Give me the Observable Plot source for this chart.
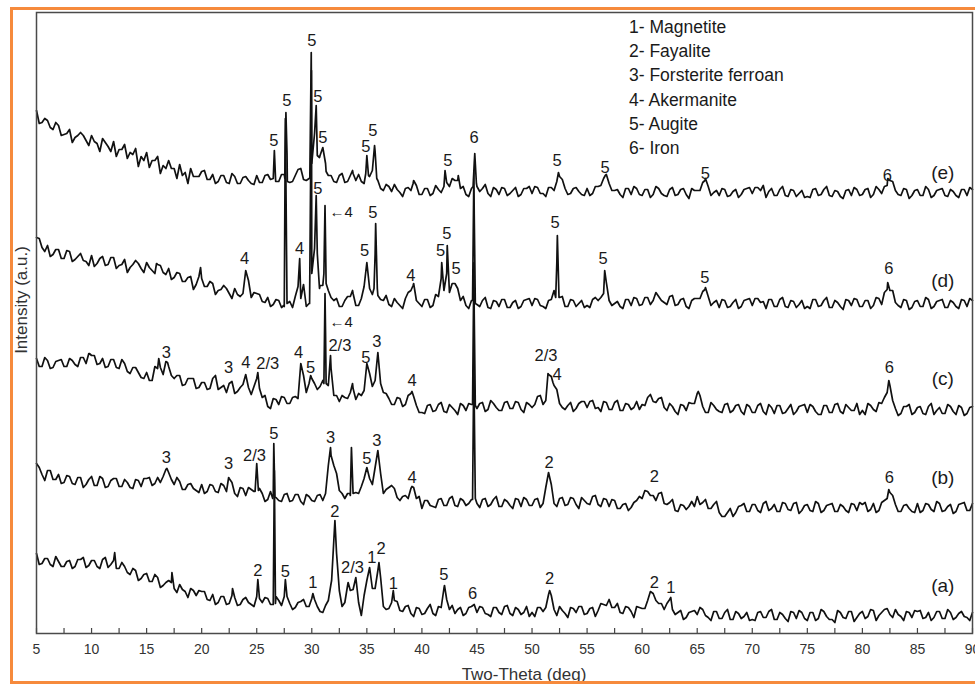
<!DOCTYPE html>
<html><head><meta charset="utf-8">
<script src="https://cdn.jsdelivr.net/npm/d3@7"></script>
<script src="https://cdn.jsdelivr.net/npm/@observablehq/plot@0.6"></script>
<style>
body{margin:0;background:#fff;}
#wrap{position:relative;width:975px;height:684px;overflow:hidden;font-family:"Liberation Sans",Arial,sans-serif;color:#222;}
#border{position:absolute;left:10px;top:7px;width:1000px;height:677px;border:3px solid #f68a3c;box-sizing:border-box;pointer-events:none;}
#legend{position:absolute;left:629px;top:15px;font-size:17.5px;line-height:24.2px;color:#1a1a1a;white-space:pre;}
#xtitle{position:absolute;left:524px;top:675px;transform:translate(-50%,-50%);font-size:17px;color:#333;white-space:nowrap;}
#ytitle{position:absolute;left:22px;top:300px;transform:translate(-50%,-50%) rotate(-90deg);font-size:17px;color:#333;white-space:nowrap;}
#chart{position:absolute;left:0;top:0;}
</style></head>
<body>
<div id="wrap">
  <div id="chart"></div>
  <div id="legend"></div>
  <div id="xtitle"></div>
  <div id="ytitle"></div>
  <div id="border"></div>
</div>
<script>
// ---- axis text ----
const xTitle = "Two-Theta (deg)";
const yTitle = "Intensity (a.u.)";
const xTicks = [5,10,15,20,25,30,35,40,45,50,55,60,65,70,75,80,85,90];
const xMinorTicks = [7.5,12.5,17.5,22.5,27.5,32.5,37.5,42.5,47.5,52.5,57.5,62.5,67.5,72.5,77.5,82.5,87.5];
const legendItems = ["1- Magnetite","2- Fayalite","3- Forsterite ferroan","4- Akermanite","5- Augite","6- Iron"];
const sampleNames = ["(a)","(b)","(c)","(d)","(e)"];
const sampleLabelI = [48,156,255,353,461];

// ---- intensities (a.u.): *Base at 5, 5.5, ... 90 deg; *Mid at 5.25, 5.75, ... 89.75 deg ----
const aBase = [
 80,70,75,67,72,67,73,67,74,66,
 73,67,74,66,73,65,67,59,63,55,
 60,52,56,48,53,45,49,42,45,38,
 42,34,39,31,37,30,36,29,36,29,
 37,31,35,29,33,37,30,26,32,27,
 35,27,21,33,93,43,31,43,53,18,
 53,45,63,27,25,33,23,27,20,26,
 19,25,20,27,45,24,20,26,20,27,
 21,26,19,26,21,27,20,26,19,27,
 21,26,22,39,24,27,20,26,21,27,
 20,26,23,29,34,26,21,27,22,27,
 25,33,40,30,24,34,19,23,16,22,
 19,24,16,22,15,21,14,22,15,21,
 14,21,16,22,14,21,15,22,15,21,
 13,21,15,22,14,11,21,15,22,16,
 22,17,23,18,24,19,24,17,22,16,
 22,15,21,16,22,15,21,16,22,16,
 21];
const aMid = [
 69,75,69,77,67,72,65,74,76,68,
 73,65,76,69,65,71,61,65,53,59,
 52,59,46,51,51,41,44,36,43,43,
 42,33,29,37,29,38,28,34,31,27,
 35,36,29,37,28,37,24,31,34,27,
 34,22,28,50,80,27,48,44,31,38,
 63,45,56,24,31,32,22,28,17,25,
 20,29,18,26,34,28,24,18,26,29,
 27,20,17,26,19,28,18,24,21,17,
 17,26,26,38,18,23,16,25,27,19,
 25,17,30,28,26,30,20,26,16,26,
 25,42,33,30,30,24,21,14,21,23,
 26,18,13,22,15,24,14,20,17,13,
 13,22,16,24,14,19,12,21,23,15,
 21,13,24,17,14,23,16,22,12,20,
 15,24,13,21,25,16,19,13,21,23,
 23,16,13,22,15,24,14,20,17,13];
const aPeaks = [[12.1,81],[17.3,61],[22.8,45],[25.1,54],[26.6,163],[26.7,30],[27.6,54],[30.1,40],[31.8,53],[32.1,113],[33.3,51],[34.0,56],[35.25,66],[36.1,71],[37.4,43],[42.05,48],[51.6,43],[62.6,36]];

const bBase = [
 170,159,163,154,159,151,157,149,156,149,
 157,148,155,147,155,147,154,146,154,147,
 155,148,156,157,161,149,152,144,150,143,
 149,142,148,141,148,155,140,146,138,144,
 170,140,134,139,133,139,132,139,132,139,
 133,138,133,168,168,143,135,138,141,147,
 166,149,183,140,146,145,133,138,145,135,
 125,133,127,134,128,135,128,135,128,134,
 130,134,127,134,127,134,128,135,127,134,
 128,135,130,161,130,135,128,136,129,136,
 130,137,129,135,127,133,125,130,126,133,
 135,142,138,140,130,131,123,129,124,132,
 137,131,125,129,121,117,125,121,128,122,
 129,123,130,123,129,122,130,123,131,123,
 129,122,130,123,129,122,129,123,130,123,
 129,122,130,123,133,141,129,122,129,122,
 130,123,129,122,130,123,129,122,130,123,
 130];
const bMid = [
 166,153,163,154,150,158,150,156,146,154,
 148,157,146,153,155,147,151,145,153,155,
 156,150,151,164,154,156,144,149,145,141,
 140,149,142,150,142,151,137,145,146,142,
 145,132,142,136,132,140,133,139,129,137,
 132,139,140,178,160,140,140,140,140,155,
 155,166,160,144,148,136,137,135,146,137,
 133,128,126,135,128,137,127,133,130,230,
 126,135,129,137,127,132,125,134,136,128,
 134,126,146,149,127,136,129,135,125,133,
 129,138,127,134,134,125,129,123,131,137,
 143,138,133,141,129,134,122,128,127,127,
 129,134,125,132,117,121,117,127,130,122,
 129,121,132,125,122,131,124,130,120,128,
 123,132,121,128,130,122,127,121,129,131,
 131,124,121,131,135,138,122,128,125,121,
 121,130,124,132,122,127,120,129,131,123];
const bPeaks = [[16.85,165],[22.45,156],[24.85,142],[25.15,143],[26.45,135],[26.55,190],[26.65,136],[31.7,186],[33.45,140],[33.6,186],[33.75,140],[39.1,147],[44.6,134],[44.72,278],[44.85,135],[82.4,144]];

const cBase = [
 275,267,273,266,273,267,275,269,276,270,
 278,269,275,267,274,265,270,260,266,256,
 261,253,265,259,267,255,258,249,255,245,
 251,244,255,244,248,250,240,246,257,239,
 255,236,227,235,229,236,230,237,268,241,
 255,244,253,248,238,232,236,241,234,238,
 268,247,279,241,235,229,235,229,240,228,
 221,228,222,229,222,229,223,230,223,229,
 225,231,224,230,223,231,225,232,224,231,
 226,237,229,259,248,230,224,231,225,232,
 226,233,226,232,224,231,223,230,224,232,
 229,236,232,235,226,230,222,229,223,230,
 240,227,221,228,222,229,221,228,222,229,
 221,228,222,229,220,228,221,229,222,228,
 221,227,219,228,221,229,222,229,223,230,
 223,230,224,231,236,248,225,220,227,219,
 226,220,227,219,226,220,227,219,226,220,
 227];
const cMid = [
 267,276,265,272,274,267,273,267,276,280,
 278,270,266,274,266,274,262,266,261,255,
 253,267,266,272,258,258,248,255,255,246,
 251,245,258,246,241,252,242,249,246,247,
 245,238,225,234,237,230,236,235,258,250,
 250,247,300,265,238,238,235,245,240,243,
 260,253,250,240,229,236,227,238,237,221,
 220,229,223,231,221,226,219,228,230,320,
 230,222,233,226,223,232,225,231,221,229,
 229,238,233,257,244,226,228,222,230,232,
 232,225,222,231,224,233,223,229,226,224,
 228,239,231,236,223,227,219,228,231,230,
 238,221,231,224,221,230,223,229,219,227,
 221,230,219,226,228,220,225,219,227,229,
 229,222,219,228,221,230,220,226,223,219,
 219,228,222,230,241,233,218,227,229,221,
 227,219,230,223,220,229,222,228,218,226];
const cPeaks = [[9.8,280],[16.1,275],[16.9,271],[24.0,259],[25.1,261],[29.0,270],[29.9,258],[31.1,250],[31.2,340],[31.3,250],[31.7,278],[33.7,250],[35.0,270],[36.0,281],[39.1,242],[44.6,229],[44.72,371],[44.85,228],[51.45,260],[51.9,251],[65.1,242],[82.4,253]];

const dBase = [
 396,386,388,379,384,375,382,374,380,372,
 378,370,377,369,376,368,374,366,373,365,
 371,363,369,361,365,356,360,352,357,349,
 355,347,350,343,348,340,345,337,361,336,
 340,332,336,329,333,327,332,337,335,327,
 360,380,348,343,333,327,333,337,328,335,
 368,339,338,333,329,335,328,335,343,333,
 327,334,328,337,343,341,348,333,328,333,
 329,333,326,333,327,334,326,333,327,334,
 328,334,327,333,343,336,327,334,327,333,
 328,334,333,340,333,330,327,334,328,335,
 329,336,333,337,331,337,328,334,327,333,
 335,342,337,331,326,333,327,334,327,334,
 328,335,332,334,327,334,327,333,326,333,
 327,334,327,333,326,333,327,334,328,334,
 327,333,328,335,341,343,331,326,333,326,
 333,327,334,327,333,326,333,327,334,327,
 333];
const dMid = [
 395,382,377,384,375,383,372,377,373,368,
 367,375,368,376,365,369,361,369,370,361,
 366,360,368,359,354,361,352,356,344,357,
 347,352,339,344,345,335,339,340,353,341,
 339,331,327,334,326,336,326,347,349,330,
 385,348,390,336,335,327,337,340,328,347,
 345,379,334,338,327,331,325,341,350,330,
 334,326,339,355,360,350,345,337,325,420,
 327,336,325,332,334,326,331,325,333,335,
 335,328,325,334,370,337,327,333,330,326,
 326,336,336,351,328,332,325,334,336,328,
 336,329,341,333,329,338,329,335,325,335,
 335,346,328,333,334,326,331,325,333,335,
 335,331,325,334,327,336,326,332,329,325,
 325,334,328,336,326,331,324,333,335,327,
 333,325,336,329,344,343,328,334,324,332,
 327,336,325,332,334,326,331,325,333,335];
const dPeaks = [[15.9,370],[19.9,366],[24.0,363],[27.45,328],[27.6,515],[27.75,330],[28.9,375],[29.8,330],[29.97,563],[30.25,385],[30.4,438],[30.7,345],[31.1,360],[31.2,428],[31.3,350],[33.7,343],[35.0,371],[35.65,345],[35.8,410],[35.95,345],[39.2,348],[41.8,371],[42.3,388],[43.0,350],[44.6,333],[44.72,463],[44.85,330],[52.15,336],[52.3,398],[52.45,336],[56.6,363],[65.7,344],[82.3,351]];

const eBase = [
 523,511,513,504,508,499,504,496,501,493,
 498,490,495,487,492,484,489,481,485,477,
 481,473,477,468,473,465,469,461,465,457,
 462,454,459,452,458,450,457,450,457,450,
 458,451,459,455,452,459,451,458,465,453,
 470,478,486,458,452,458,451,458,453,452,
 478,463,453,443,447,449,441,445,443,448,
 439,445,440,444,447,447,453,445,439,445,
 447,445,440,446,439,445,440,446,439,445,
 440,446,440,446,443,457,445,440,446,439,
 445,440,447,455,450,443,439,445,439,445,
 438,444,439,445,438,444,438,444,439,445,
 443,451,447,441,438,444,438,444,439,445,
 440,446,448,442,438,444,438,444,437,443,
 437,444,438,444,438,443,437,443,438,444,
 439,445,439,444,447,453,443,438,444,438,
 444,438,444,438,444,438,444,438,444,438,
 444];
const eMid = [
 510,515,506,511,498,500,491,498,498,488,
 492,482,491,482,477,484,475,479,467,473,
 466,473,460,465,465,455,458,450,457,457,
 463,454,450,458,451,460,450,456,453,449,
 451,458,454,452,459,480,452,464,454,455,
 500,478,470,458,451,460,452,460,459,450,
 457,482,445,449,442,444,437,446,453,439,
 445,438,448,441,451,455,453,447,437,470,
 442,449,437,444,446,438,443,437,445,447,
 447,440,437,446,452,454,439,445,442,438,
 438,447,448,459,443,444,436,445,447,439,
 444,436,447,440,437,446,439,445,435,443,
 443,455,438,443,445,437,442,436,444,446,
 446,443,436,445,438,447,437,443,440,436,
 436,445,439,447,437,442,435,444,446,438,
 444,436,447,440,448,452,439,445,435,443,
 438,447,436,443,445,437,442,436,444,446];
const ePeaks = [[26.6,483],[26.72,452],[27.55,455],[27.65,521],[27.78,452],[29.82,455],[29.95,581],[30.4,528],[30.7,476],[31.3,462],[33.7,463],[34.9,460],[35.15,458],[35.7,488],[35.9,455],[39.2,450],[42.1,463],[43.3,458],[44.65,447],[44.8,480],[44.95,450],[52.4,461],[56.65,458],[65.7,453],[82.3,455]];

// ---- peak labels [2theta, intensity, text] ----
const aLabels = [[25.1,63,"2"],[27.6,62,"5"],[30.1,51,"1"],[32.1,122,"2"],[33.7,66,"2/3"],[35.45,76,"1"],[36.3,85,"2"],[37.4,50,"1"],[42.0,59,"5"],[44.6,40,"6"],[51.6,55,"2"],[61.1,51,"2"],[62.6,46,"1"]];
const bLabels = [[16.8,176,"3"],[22.45,170,"3"],[24.8,178,"2/3"],[26.55,200,"5"],[31.7,196,"3"],[35.0,175,"5"],[35.9,193,"3"],[39.1,156,"4"],[51.55,171,"2"],[61.1,157,"2"],[82.45,156,"6"]];
const cLabels = [[16.8,281,"3"],[22.45,266,"3"],[24.0,271,"4"],[26.0,270,"2/3"],[28.8,281,"4"],[29.9,266,"5"],[32.55,288,"2/3"],[34.9,276,"5"],[35.9,292,"3"],[39.1,253,"4"],[51.27,278,"2/3"],[52.27,259,"4"],[82.45,266,"6"]];
const dLabels = [[23.9,375,"4"],[28.9,385,"4"],[30.55,445,"5"],[34.8,383,"5"],[35.55,421,"5"],[39.0,358,"4"],[41.7,383,"5"],[42.27,400,"5"],[43.1,365,"5"],[52.1,411,"5"],[56.45,375,"5"],[65.7,356,"5"],[82.4,365,"6"]];
const eLabels = [[26.55,493,"5"],[27.73,533,"5"],[30.0,593,"5"],[30.55,537,"5"],[31.0,496,"5"],[34.9,487,"5"],[35.55,503,"5"],[42.36,473,"5"],[44.73,496,"6"],[52.27,473,"5"],[56.64,466,"5"],[65.73,460,"5"],[82.27,458,"6"]];
const arrowLabels = [[31.6,421,"\u21904"],[31.6,311,"\u21904"]];

// ---- build table ----
function buildTrace(sample, base, mid, peaks) {
  const m = new Map();
  base.forEach((v, i) => m.set(5 + i * 0.5, v));
  mid.forEach((v, i) => m.set(5.25 + i * 0.5, v));
  peaks.forEach(([t, v]) => m.set(t, v));
  return [...m].sort((p, q) => p[0] - q[0]).map(([theta, I]) => ({sample, theta, I}));
}
const rows = [
  ...buildTrace("a", aBase, aMid, aPeaks),
  ...buildTrace("b", bBase, bMid, bPeaks),
  ...buildTrace("c", cBase, cMid, cPeaks),
  ...buildTrace("d", dBase, dMid, dPeaks),
  ...buildTrace("e", eBase, eMid, ePeaks)
];
const labels = [aLabels, bLabels, cLabels, dLabels, eLabels].flat().map(([theta, I, text]) => ({theta, I, text}));
const arrows = arrowLabels.map(([theta, I, text]) => ({theta, I, text}));
const samples = sampleNames.map((text, i) => ({theta: 87.3, I: sampleLabelI[i], text}));

const chart = Plot.plot({
  width: 975, height: 684,
  marginTop: 12, marginBottom: 51, marginLeft: 36, marginRight: 3,
  style: {fontFamily: "'Liberation Sans', Arial, sans-serif", background: "transparent"},
  x: {domain: [5, 90]},
  y: {domain: [0, 621], axis: null},
  marks: [
    Plot.ruleX([...xTicks, ...xMinorTicks], {x: d => d, y1: 0, y2: 0, insetBottom: 5, stroke: "#444", strokeWidth: 1.2}),
    Plot.line(rows, {x: "theta", y: "I", z: "sample", stroke: "#111", strokeWidth: 1.7, strokeLinejoin: "round"}),
    Plot.text(labels, {x: "theta", y: "I", text: "text", fontSize: 16.5, fill: "#1a1a1a"}),
    Plot.text(arrows, {x: "theta", y: "I", text: "text", fontSize: 15, fill: "#1a1a1a", textAnchor: "start"}),
    Plot.text(samples, {x: "theta", y: "I", text: "text", fontSize: 19, fill: "#1a1a1a"}),
    Plot.axisX({ticks: xTicks, tickSize: 0, tickPadding: 11, fontSize: 14, fill: "#333", label: null}),
    Plot.frame({stroke: "#4a4a4a", strokeWidth: 1.5})
  ]
});
document.getElementById("chart").appendChild(chart);
document.getElementById("legend").textContent = legendItems.join("\n");
document.getElementById("xtitle").textContent = xTitle;
document.getElementById("ytitle").textContent = yTitle;
</script>
</body></html>
